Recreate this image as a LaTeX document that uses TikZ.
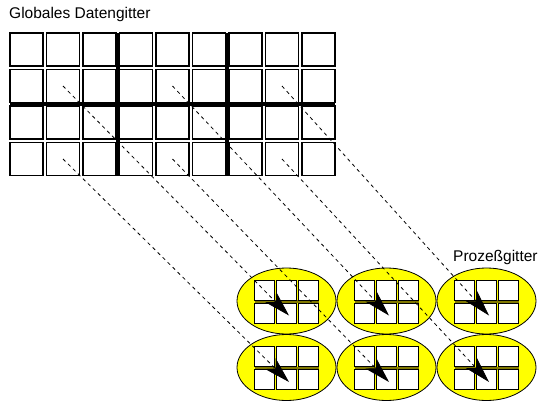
\documentclass[tikz,border=0pt]{standalone}
\usepackage{fontspec}
\newfontfamily\arialf{Liberation Sans}
\usetikzlibrary{arrows.meta,shapes.geometric,calc}
\definecolor{olivesep}{RGB}{128,120,0}
\definecolor{procyellow}{RGB}{255,255,0}
\begin{document}
\begin{tikzpicture}[x=1pt,y=-1pt,
  gcell/.style={draw=black,fill=white,line width=1.2pt,minimum width=33pt,minimum height=33pt,inner sep=0pt,rectangle},
  pcell/.style={draw=black,fill=white,line width=1pt,minimum width=20pt,minimum height=20pt,inner sep=0pt,rectangle},
  proc/.style={ellipse,draw=black,line width=0.8pt,fill=procyellow,minimum width=99pt,minimum height=66pt,inner sep=0pt},
  thickline/.style={line width=3.6pt,black},
  sepline/.style={line width=3pt,olivesep},
  maplink/.style={line width=0.8pt,dash pattern=on 3.5pt off 3.5pt,-{Stealth[length=26pt,width=15pt,inset=7pt]}},
  lbl/.style={font=\arialf\fontsize{15.5}{18}\selectfont,inner sep=0pt}
]
\useasboundingbox (0,0) rectangle (540,401);
\fill[white] (0,0) rectangle (540,401);

% labels
\node[lbl,anchor=base west] (tglobal) at (9,19) {Globales Datengitter};
\node[lbl,anchor=base west] (tproc) at (453,261) {Prozeßgitter};

% global grid
\foreach \r in {1,...,4}{
  \foreach \c in {1,...,9}{
    \node[gcell] (g-\r-\c) at ({26.5+36.5*(\c-1)},{49.5+36.5*(\r-1)}) {};
  }
}
\draw[thickline] (10,104.25) -- (335,104.25);
\draw[thickline] (117.75,33) -- (117.75,175.5);
\draw[thickline] (227.25,33) -- (227.25,175.5);

% process grid
\foreach \pr/\py in {1/301,2/367.5}{
  \foreach \pc in {1,2,3}{
    \node[proc] (p-\pr-\pc) at ({286.5+100*(\pc-1)},\py) {};
    \draw[sepline] ($(p-\pr-\pc)+(-32,0.5)$) -- ($(p-\pr-\pc)+(32,0.5)$);
    \foreach \ir/\oy in {1/-11,2/12}{
      \foreach \ic/\ox in {1/-22,2/0,3/22}{
        \node[pcell] (p-\pr-\pc-\ir-\ic) at ($(p-\pr-\pc)+(\ox,\oy)$) {};
      }
    }
    \coordinate (t-\pr-\pc) at ($(p-\pr-\pc)+(2.5,14.5)$);
  }
}

% mapping links
\foreach \pr/\gr in {1/2,2/4}{
  \foreach \pc/\gc in {1/2,2/5,3/8}{
    \draw[maplink] (g-\gr-\gc.center) -- (t-\pr-\pc);
  }
}
\end{tikzpicture}
\end{document}
